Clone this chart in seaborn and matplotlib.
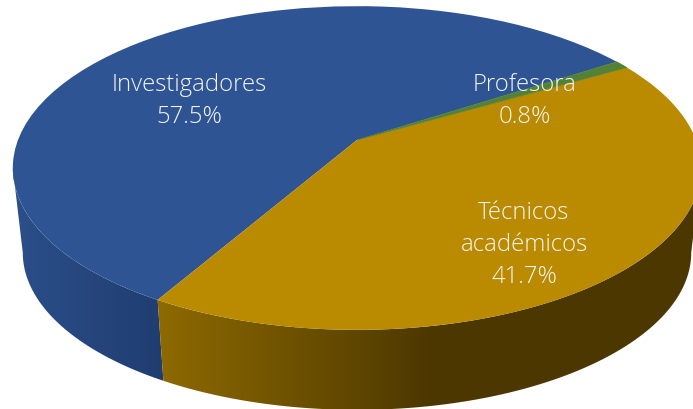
import numpy as np
import matplotlib
matplotlib.use('Agg')
import matplotlib.pyplot as plt
from matplotlib.colors import LinearSegmentedColormap
from matplotlib.patches import Polygon
from matplotlib.transforms import Transform
import seaborn as sns

# datos
categories = ['Investigadores', 'Técnicos\nacadémicos', 'Profesora']
shares = [57.5, 41.7, 0.8]

slice_colors = ['#2E5494', '#BA8B00', '#538135']
start_angle = 33

# geometria de la perspectiva, en pixeles de la imagen
x0, y0 = 357, 140
a, b, k = 339, 157, 0.173
wall_scale, wall_drop = 0.971, 85.5


def project(u, v):
    w = 1 + k * v
    return x0 + a * u / w, y0 - b * v / w


# transformacion para aplastar el pastel
class Perspective(Transform):
    input_dims = 2
    output_dims = 2

    def transform_non_affine(self, values):
        values = np.asarray(values)
        x, y = project(values[:, 0], values[:, 1])
        return np.column_stack([x, y])


# pared lateral entre dos angulos, con degradado en x
def draw_wall(t_from, t_to, x_from, x_to, colors):
    ts = np.radians(np.linspace(t_from, t_to, 200))
    xt, yt = project(np.cos(ts), np.sin(ts))
    xb = x0 + wall_scale * (xt - x0)
    yb = y0 + wall_drop + wall_scale * (yt - y0)
    pts = np.column_stack([np.r_[xt, xb[::-1]], np.r_[yt, yb[::-1]]])
    cmap = LinearSegmentedColormap.from_list('wall', colors)
    grad = np.linspace(0, 1, 256).reshape(1, -1)
    im = ax.imshow(grad, cmap=cmap, extent=[x_from, x_to, 420, 100], aspect='auto', zorder=1)
    im.set_clip_path(Polygon(pts, closed=True, transform=ax.transData))


sns.set_theme(style='white')
plt.rcParams['font.family'] = ['Open Sans', 'DejaVu Sans']

fig, ax = plt.subplots(figsize=(6.93, 4.09), dpi=100)
fig.subplots_adjust(left=0, right=1, bottom=0, top=1)

wedges, _ = ax.pie(shares, colors=sns.color_palette(slice_colors), startangle=start_angle,
                   counterclock=True, wedgeprops=dict(linewidth=0))
persp = Perspective()
for w in wedges:
    w.set_transform(persp + ax.transData)
    w.set_zorder(3)
wedges[2].set_edgecolor(slice_colors[2])
wedges[2].set_linewidth(0.5)

# angulos donde el borde del disco llega a sus extremos en x
search = np.arange(120.0, 420.0, 0.5)
xs = project(np.cos(np.radians(search)), np.sin(np.radians(search)))[0]
left_t = search[search < 270][np.argmin(xs[search < 270])]
right_t = search[search > 270][np.argmax(xs[search > 270])]

boundary = start_angle + shares[0] * 3.6
draw_wall(left_t, boundary, 0, 165, ['#2D508C', '#1F3D70'])
draw_wall(boundary, right_t, 155, 700, ['#8F6A00', '#6E5200', '#4E3800', '#4C3700', '#4C3700'])

ax.set_aspect('auto')
ax.set_xlim(0, 693)
ax.set_ylim(409, 0)
ax.axis('off')

# etiquetas
label_pos = [(189, 101), (524, 245), (525, 101)]
for name, val, (lx, ly) in zip(categories, shares, label_pos):
    ax.text(lx, ly, f'{name}\n{val}%', color='#F4F4F4', fontsize=17.2, fontweight='light',
            ha='center', va='center', linespacing=1.42, zorder=5)

fig.savefig('out.png', dpi=100)
